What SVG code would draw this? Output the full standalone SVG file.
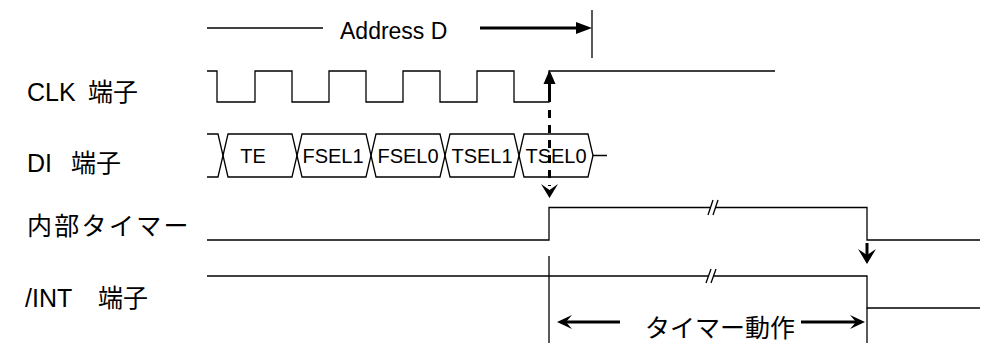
<svg xmlns="http://www.w3.org/2000/svg" width="989" height="345" viewBox="0 0 989 345">
<style>
.w{fill:none;stroke:#000;stroke-width:1.3}
.t{stroke:#000;stroke-width:3;fill:none}
.h{fill:#000;stroke:none}
.lbl{font-family:"Liberation Sans","Noto Sans CJK JP",sans-serif;font-size:25px;fill:#000}
.cjk{font-family:"Noto Sans CJK JP","Liberation Sans",sans-serif;font-size:25px;fill:#000}
.hx{font-family:"Liberation Sans",sans-serif;font-size:20px;fill:#000;text-anchor:middle}
</style>
<rect width="989" height="345" fill="#fff"/>
<g id="labels">
<text class="lbl" x="27" y="101">CLK <tspan class="cjk" x="88">端子</tspan></text>
<text class="lbl" x="27" y="172">DI <tspan class="cjk" x="71">端子</tspan></text>
<text class="cjk" x="27" y="235" letter-spacing="2.3">内部タイマー</text>
<text class="lbl" x="25" y="307">/INT <tspan class="cjk" x="98">端子</tspan></text>
</g>
<g id="address">
<line class="w" x1="207" y1="28" x2="323" y2="28"/>
<text class="lbl" x="340" y="39" style="font-size:23px">Address D</text>
<line class="w" x1="592" y1="10" x2="592" y2="58"/>
</g>
<g id="clk">
<path class="w" d="M207,71 H217 V102 H255 V71 H292 V102 H329 V71 H366 V102 H403 V71 H440 V102 H477 V71 H514 V102 H549 V71 H775"/>
</g>
<g id="di">
<path class="w" d="M207,134 H218 L228,177 H292 L302,134 H366 L376,177 H440 L450,134 H514 L524,177 H588 L593,155.5 H607"/>
<path class="w" d="M207,177 H218 L228,134 H292 L302,177 H366 L376,134 H440 L450,177 H514 L524,134 H588 L593,155.5"/>
<text class="hx" x="253" y="163">TE</text>
<text class="hx" x="333" y="163">FSEL1</text>
<text class="hx" x="408" y="163">FSEL0</text>
<text class="hx" x="482" y="163">TSEL1</text>
<text class="hx" x="556" y="163">TSEL0</text>
</g>
<g id="timer">
<path class="w" d="M207,240 H549 V207.5 H710.5"/>
<path class="w" d="M715.5,207.5 H867 V240 H980"/>
<path class="w" d="M708,215 L713,200 M713,215 L718,200"/>
</g>
<g id="int">
<path class="w" d="M207,276 H708.5"/>
<path class="w" d="M713.5,276 H867 V308 H980"/>
<path class="w" d="M706,283 L711,269 M711,283 L716,269"/>
<line class="w" x1="549" y1="256" x2="549" y2="343"/>
<line class="w" x1="867" y1="308" x2="867" y2="343"/>
<text class="cjk" x="645" y="337">タイマー動作</text>
</g>
<g id="connectors">
<line class="t" x1="480" y1="28" x2="580" y2="28"/>
<polygon class="h" points="592,28 576,22 576,34"/>
<line class="t" x1="549.5" y1="102" x2="549.5" y2="80"/>
<polygon class="h" points="549.5,70 543.5,84 555.5,84"/>
<line class="t" x1="549.5" y1="110" x2="549.5" y2="186" stroke-width="3.5" stroke-dasharray="8,7"/>
<polygon class="h" points="549.5,198 541,184 549.5,190 558,184"/>
<line class="t" x1="867" y1="243" x2="867" y2="256"/>
<polygon class="h" points="867,264 858,249 867,255 876,249"/>
<line class="t" x1="620" y1="322" x2="562" y2="322"/>
<polygon class="h" points="557,322 572,315 566,322 572,329"/>
<line class="t" x1="801" y1="322" x2="858" y2="322"/>
<polygon class="h" points="865,322 850,315 856,322 850,329"/>
</g>
</svg>
